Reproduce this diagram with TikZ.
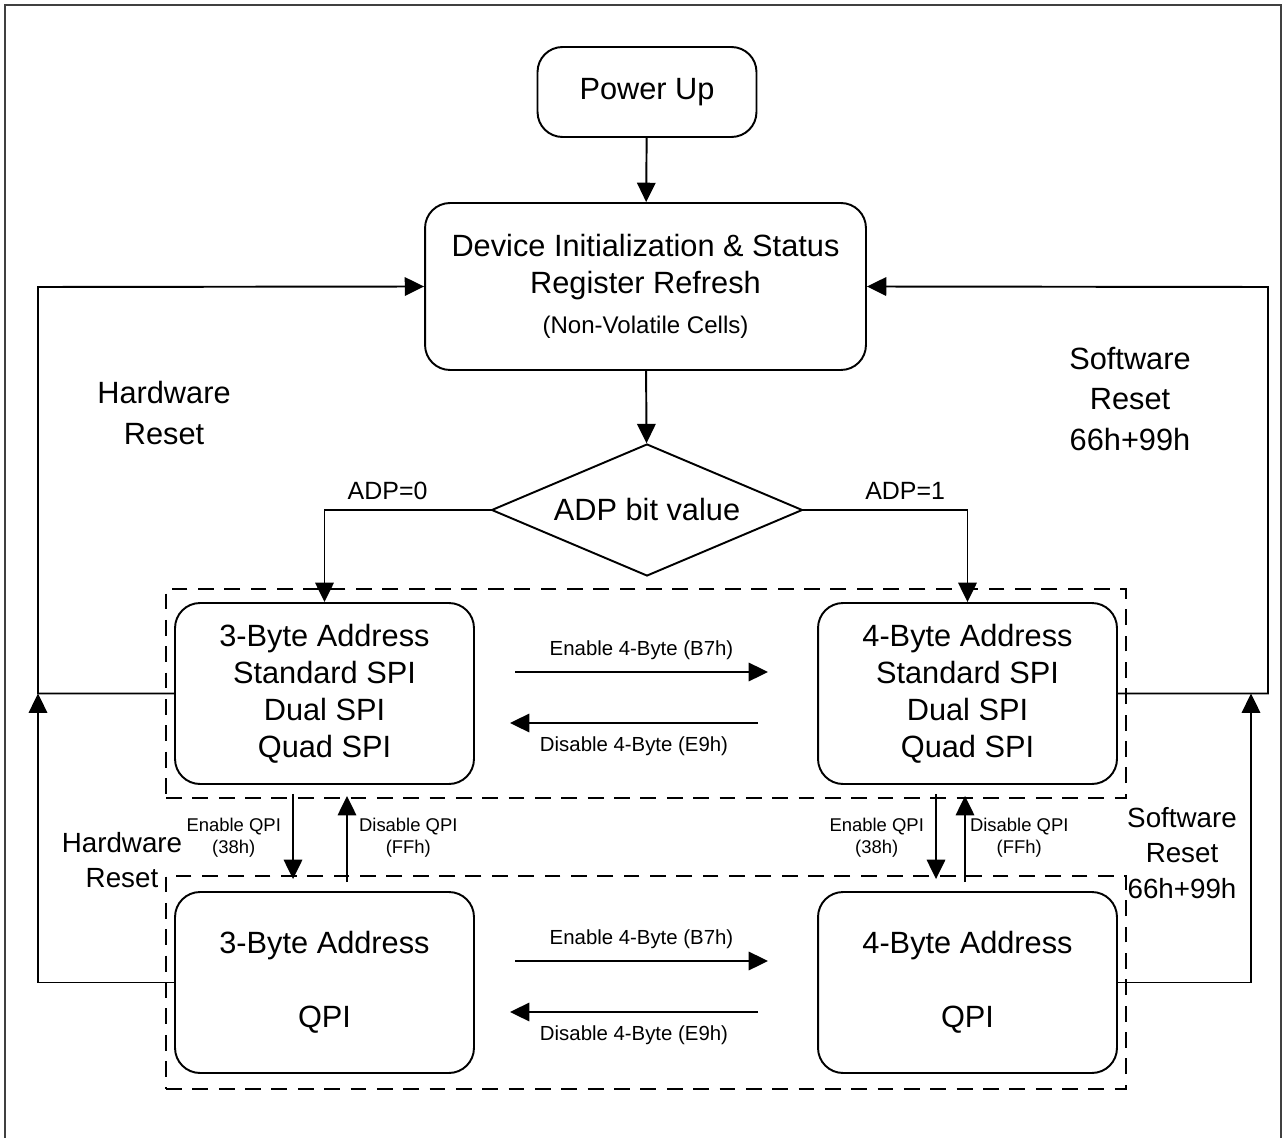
\documentclass[tikz,border=0pt]{standalone}
\usepackage{fontspec}
\setmainfont{Liberation Sans}
\usetikzlibrary{arrows.meta,positioning,shapes.geometric,fit}

\tikzset{
	arr/.style={-{Triangle[length=11pt,width=10.5pt]}, line width=1.1pt},
	roundbox/.style={draw, line width=1.1pt, rounded corners=0.5cm, align=center, font=\fontsize{17.5}{21}\selectfont},
	modebox/.style={roundbox, minimum width=5.98cm, minimum height=3.62cm},
	groupbox/.style={draw, line width=1.1pt, dash pattern=on 9pt off 6pt, inner xsep=0.16cm},
	cmdlbl/.style={font=\fontsize{11.6}{14}\selectfont},
	qpilbl/.style={align=center, font=\fontsize{10.5}{12.5}\selectfont},
	resetlbl/.style={align=center, font=\fontsize{17.5}{23}\selectfont},
	resetlblb/.style={align=center, font=\fontsize{15.8}{20}\selectfont},
}

\begin{document}
\begin{tikzpicture}[x=0.02cm, y=-0.02cm]
	\useasboundingbox (0,0) rectangle (1288,1138);
	% frame
	\draw[line width=0.8pt, black!75] (5,1145) -- (5,5) -- (1281,5) -- (1281,1145);

	\node[roundbox, minimum width=4.38cm, minimum height=1.8cm] (pwr) at (647,92) {Power Up};
	\node[roundbox, minimum width=8.82cm, minimum height=3.34cm] (init) at (645.5,286.5) {Device Initialization \& Status\\Register Refresh\\[2pt]{\fontsize{13.7}{16}\selectfont (Non-Volatile Cells)}};
	\node[draw, diamond, aspect=2.36, minimum width=6.22cm, minimum height=2.64cm, inner sep=0pt, line width=1.1pt, font=\fontsize{17.5}{21}\selectfont] (adp) at (647,510) {ADP bit value};

	\node[modebox] (spi3) at (324.5,693.5) {3-Byte Address\\Standard SPI\\Dual SPI\\Quad SPI};
	\node[modebox] (spi4) at (967.5,693.5) {4-Byte Address\\Standard SPI\\Dual SPI\\Quad SPI};
	\node[modebox] (qpi3) at (324.5,982.5) {3-Byte Address\\[21pt]QPI};
	\node[modebox] (qpi4) at (967.5,982.5) {4-Byte Address\\[21pt]QPI};

	% dashed groups
	\node[groupbox, fit=(spi3)(spi4), inner ysep=0.27cm] (spigrp) {};
	\node[groupbox, fit=(qpi3)(qpi4), inner ysep=0.31cm] (qpigrp) {};

	\draw[arr] (pwr) -- (init);
	\draw[arr] (init) -- (adp);
	\draw[arr] (adp.west) -| node[cmdlbl, pos=0.31, above=2pt, font=\fontsize{14.2}{17}\selectfont] {ADP=0} (spi3.north);
	\draw[arr] (adp.east) -| node[cmdlbl, pos=0.31, above=2pt, font=\fontsize{14.2}{17}\selectfont] {ADP=1} (spi4.north);

	% 3-byte / 4-byte switching
	\coordinate (en1a) at (515,672);
	\coordinate (en1b) at (768,672);
	\coordinate (dis1a) at (758,723);
	\coordinate (dis1b) at (510,723);
	\coordinate (en2a) at (515,961);
	\coordinate (en2b) at (768,961);
	\coordinate (dis2a) at (758,1012);
	\coordinate (dis2b) at (510,1012);
	\draw[arr] (en1a) -- node[cmdlbl, above=3pt] {Enable 4-Byte (B7h)} (en1b);
	\draw[arr] (dis1a) -- node[cmdlbl, below=4pt] {Disable 4-Byte (E9h)} (dis1b);
	\draw[arr] (en2a) -- node[cmdlbl, above=3pt] {Enable 4-Byte (B7h)} (en2b);
	\draw[arr] (dis2a) -- node[cmdlbl, below=4pt] {Disable 4-Byte (E9h)} (dis2b);

	% SPI / QPI switching
	\draw[arr, shorten <=0.18cm, shorten >=0.24cm] ([xshift=-0.63cm]spi3.south) -- node[qpilbl, left=3pt] {Enable QPI\\(38h)} ([xshift=-0.63cm]qpi3.north);
	\draw[arr, shorten <=0.18cm, shorten >=0.22cm] ([xshift=0.45cm]qpi3.north) -- node[qpilbl, right=3pt] {Disable QPI\\(FFh)} ([xshift=0.45cm]spi3.south);
	\draw[arr, shorten <=0.18cm, shorten >=0.24cm] ([xshift=-0.63cm]spi4.south) -- node[qpilbl, left=3pt] {Enable QPI\\(38h)} ([xshift=-0.63cm]qpi4.north);
	\draw[arr, shorten <=0.18cm, shorten >=0.22cm] ([xshift=-0.05cm]qpi4.north) -- node[qpilbl, right=-1pt] {Disable QPI\\(FFh)} ([xshift=-0.05cm]spi4.south);

	% reset loops
	\coordinate (hwtop) at (38,287);
	\coordinate (hwjoin) at (38,693.5);
	\coordinate (swtop) at (1268,287);
	\coordinate (swjoin) at (1251,693.5);
	\draw[arr] (spi3.west) -| (hwtop) -- (init.west);
	\draw[arr] (qpi3.west) -| (hwjoin);
	\draw[arr] (spi4.east) -| (swtop) -- (init.east);
	\draw[arr] (qpi4.east) -| (swjoin);

	\node[resetlbl] (hwr1) at (164,413) {Hardware\\Reset};
	\node[resetlbl] (swr1) at (1130,399) {Software\\Reset\\66h+99h};
	\node[resetlblb] (hwr2) at (122,860) {Hardware\\Reset};
	\node[resetlblb] (swr2) at (1182,853) {Software\\Reset\\66h+99h};
\end{tikzpicture}
\end{document}
